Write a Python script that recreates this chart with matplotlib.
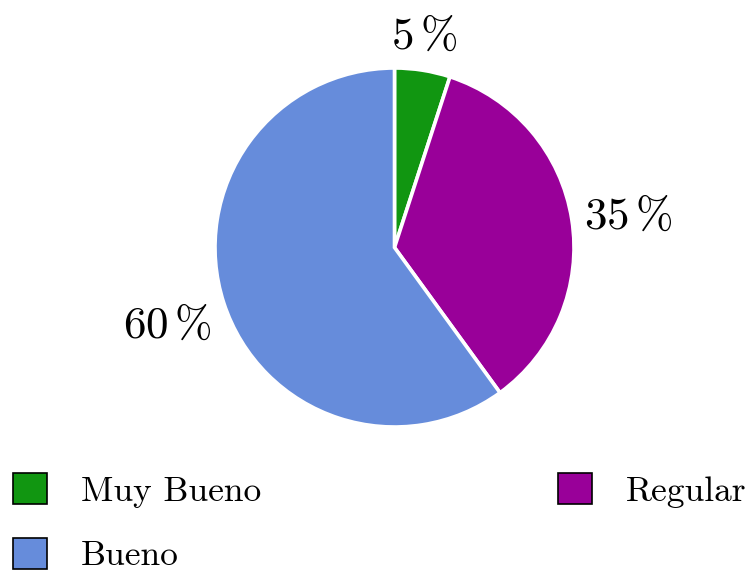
import numpy as np
import matplotlib
matplotlib.use("Agg")
import matplotlib.pyplot as plt
from matplotlib.patches import Patch

# data
categories = ["Muy Bueno", "Regular", "Bueno"]
values = [5, 35, 60]
colors = ["#119611", "#990099", "#668cdb"]
legend_order = ["Muy Bueno", "Bueno", "Regular"]

plt.rcParams['mathtext.fontset'] = 'cm'
plt.rcParams['font.family'] = 'cmr10'
plt.rcParams['axes.formatter.use_mathtext'] = True

fig = plt.figure(figsize=(7.52, 5.76), dpi=100)
W, H = 752, 576
cx, cy, r = 394.5, 247.5, 179.5
ax = fig.add_axes([(cx - r) / W, (H - cy - r) / H, 2 * r / W, 2 * r / H])

labels = [r"$%d\,\%%$" % v for v in values]
wedges, texts = ax.pie(values, colors=colors, startangle=90, counterclock=False,
                       labels=labels, labeldistance=1.07,
                       wedgeprops=dict(edgecolor="white", linewidth=2.6),
                       textprops=dict(fontsize=32.5))

# anchor labels away from the pie, like pgf-pie
for w, t in zip(wedges, texts):
    ang = np.deg2rad((w.theta1 + w.theta2) / 2)
    c, s = np.cos(ang), np.sin(ang)
    t.set_ha("center" if abs(c) < 0.5 else ("left" if c > 0 else "right"))
    t.set_va("center" if abs(s) < 0.25 else ("bottom" if s > 0 else "top"))

ax.set_xlim(-1, 1)
ax.set_ylim(-1, 1)
ax.set_aspect("equal")
ax.axis("off")

handles = [Patch(facecolor=colors[categories.index(n)], edgecolor="black", linewidth=1.2)
           for n in legend_order]
fig.legend(handles, legend_order, ncol=2, mode="expand", frameon=False,
           bbox_to_anchor=(0.012, 0.0, 0.985, 0.2), loc="lower left",
           fontsize=25.5, handleheight=0.96, handlelength=0.96, handletextpad=0.96,
           labelspacing=0.85, borderaxespad=0.0, borderpad=0.1)

fig.savefig("out.png", dpi=100)
